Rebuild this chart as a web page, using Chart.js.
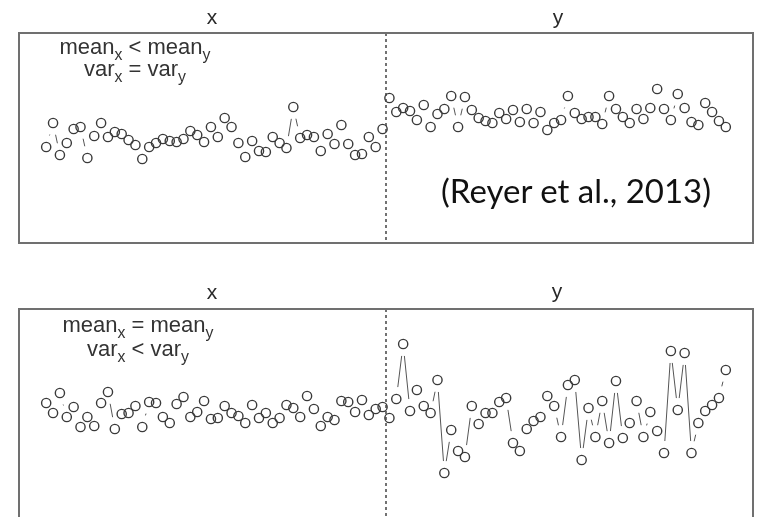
<!DOCTYPE html>
<html>
<head>
<meta charset="utf-8">
<script src="https://cdn.jsdelivr.net/npm/chart.js@4.4.1/dist/chart.umd.min.js"></script>
<style>
  body { margin: 0; width: 759px; height: 517px; overflow: hidden; background: #fff; position: relative;
         font-family: "Liberation Sans", Arial, sans-serif; color: #2a2a2a; }
  .plot { position: absolute; left: 0; width: 759px; height: 260px; }
  .lab { position: absolute; font-size: 21px; line-height: 21px; transform: translateX(-50%); }
  .note { position: absolute; font-size: 22px; text-align: center; transform: translateX(-50%); white-space: nowrap; color: #333; }
  .note sub { font-size: 0.72em; line-height: 0; vertical-align: -0.35em; }
  .cite { position: absolute; font-family: Lato, "Noto Sans", sans-serif; font-size: 33px; line-height: 33px; color: #111; white-space: nowrap; }
</style>
</head>
<body>
<div class="plot" style="top:0"><canvas id="top" width="759" height="260"></canvas></div>
<div class="plot" style="top:276px"><canvas id="bottom" width="759" height="260"></canvas></div>

<div class="lab" style="left:212px;top:6px">x</div>
<div class="lab" style="left:558px;top:6px">y</div>
<div class="lab" style="left:212px;top:281px">x</div>
<div class="lab" style="left:557px;top:280px">y</div>

<div class="note" style="left:135px;top:36px;line-height:22px">mean<sub>x</sub> &lt; mean<sub>y</sub><br>var<sub>x</sub> = var<sub>y</sub></div>
<div class="note" style="left:138px;top:313px;line-height:24px">mean<sub>x</sub> = mean<sub>y</sub><br>var<sub>x</sub> &lt; var<sub>y</sub></div>

<div class="cite" style="left:441px;top:174px">(Reyer et al., 2013)</div>

<script>
// panel 1: different means, same variance
const topX = [9.6, 12.0, 8.8, 10.0, 11.4, 11.6, 8.5, 10.7, 12.0, 10.6,
  11.1, 10.9, 10.3, 9.8, 8.4, 9.6, 10.0, 10.4, 10.2, 10.1,
  10.4, 11.2, 10.8, 10.1, 11.6, 10.6, 12.5, 11.6, 10.0, 8.6,
  10.2, 9.2, 9.1, 10.6, 10.0, 9.5, 13.6, 10.5, 10.8, 10.6,
  9.2, 10.9, 9.9, 11.8, 9.9, 8.8, 8.9, 10.6, 9.6, 11.4];
const topY = [14.5, 13.1, 13.5, 13.2, 12.3, 13.8, 11.6, 12.9, 13.4, 14.7,
  11.6, 14.6, 13.3, 12.5, 12.2, 12.0, 13.0, 12.4, 13.3, 12.1,
  13.4, 12.0, 13.1, 11.3, 12.0, 12.3, 14.7, 13.0, 12.4, 12.6,
  12.6, 11.9, 14.7, 13.4, 12.6, 12.0, 13.4, 12.4, 13.5, 15.4,
  13.4, 12.3, 14.9, 13.5, 12.1, 11.8, 14.0, 13.1, 12.2, 11.6];

// panel 2: same means, different variance
const bottomX = [11.6, 10.6, 12.6, 10.2, 11.2, 9.2, 10.2, 9.3, 11.6, 12.7,
  9.0, 10.5, 10.6, 11.3, 9.2, 11.7, 11.6, 10.2, 9.6, 11.5,
  12.2, 10.2, 10.7, 11.8, 10.0, 10.1, 11.3, 10.6, 10.3, 9.6,
  11.4, 10.1, 10.6, 9.6, 10.1, 11.4, 11.1, 10.2, 12.3, 11.0,
  9.3, 10.2, 9.9, 11.8, 11.7, 10.7, 11.9, 10.4, 11.0, 11.2];
const bottomY = [10.1, 12.0, 17.5, 10.8, 12.9, 11.3, 10.6, 13.9, 4.6, 8.9,
  6.8, 6.2, 11.3, 9.5, 10.6, 10.6, 11.7, 12.1, 7.6, 6.8,
  9.0, 9.8, 10.2, 12.3, 11.3, 8.2, 13.4, 13.9, 5.9, 11.1,
  8.2, 11.8, 7.6, 13.8, 8.1, 9.6, 11.8, 8.2, 10.7, 8.8,
  6.6, 16.8, 10.9, 16.6, 6.6, 9.6, 10.8, 11.4, 12.1, 14.9];

const ink = '#3a3a3a';

// observation number along the x axis, group y follows group x
const toPoints = (values, start) => values.map((v, i) => ({ x: start + i, y: v }));

// R-style type="b": line pieces between points with a gap round each circle
const framePlugin = {
  id: 'frame',
  afterDatasetsDraw(chart) {
    const { ctx, chartArea: a } = chart;
    const gap = 12;
    ctx.save();
    ctx.strokeStyle = '#555';
    ctx.lineWidth = 1;
    chart.data.datasets.forEach((ds, di) => {
      const pts = chart.getDatasetMeta(di).data;
      for (let i = 1; i < pts.length; i++) {
        const p = pts[i - 1], q = pts[i];
        const dx = q.x - p.x, dy = q.y - p.y;
        const d = Math.hypot(dx, dy);
        if (d <= 2 * gap) continue;
        const ux = dx / d, uy = dy / d;
        ctx.beginPath();
        ctx.moveTo(p.x + ux * gap, p.y + uy * gap);
        ctx.lineTo(q.x - ux * gap, q.y - uy * gap);
        ctx.stroke();
      }
    });
    // split between the two groups
    const xs = chart.scales.x.getPixelForValue(50.5);
    ctx.strokeStyle = '#444';
    ctx.lineWidth = 1.5;
    ctx.setLineDash([3, 3]);
    ctx.beginPath();
    ctx.moveTo(xs, a.top);
    ctx.lineTo(xs, a.bottom);
    ctx.stroke();
    ctx.setLineDash([]);
    ctx.strokeStyle = '#707070';
    ctx.lineWidth = 2;
    ctx.strokeRect(a.left, a.top, a.right - a.left, a.bottom - a.top);
    ctx.restore();
  }
};

function makePanel(id, xVals, yVals) {
  const pointStyle = {
    showLine: false,
    pointRadius: 4.6,
    pointBorderWidth: 1.4,
    pointBorderColor: ink,
    pointBackgroundColor: 'rgba(0,0,0,0)'
  };
  return new Chart(document.getElementById(id), {
    type: 'scatter',
    data: {
      datasets: [
        { label: 'x', data: toPoints(xVals, 1), ...pointStyle },
        { label: 'y', data: toPoints(yVals, 51), ...pointStyle }
      ]
    },
    options: {
      responsive: false,
      animation: false,
      layout: { padding: { left: 19, right: 2, top: 33, bottom: 17 } },
      plugins: { legend: { display: false }, tooltip: { enabled: false } },
      scales: {
        x: { type: 'linear', display: false, min: -2.96, max: 103.96 },
        y: { type: 'linear', display: false, min: 0, max: 21 }
      }
    },
    plugins: [framePlugin]
  });
}

makePanel('top', topX, topY);
makePanel('bottom', bottomX, bottomY);
</script>
</body>
</html>
